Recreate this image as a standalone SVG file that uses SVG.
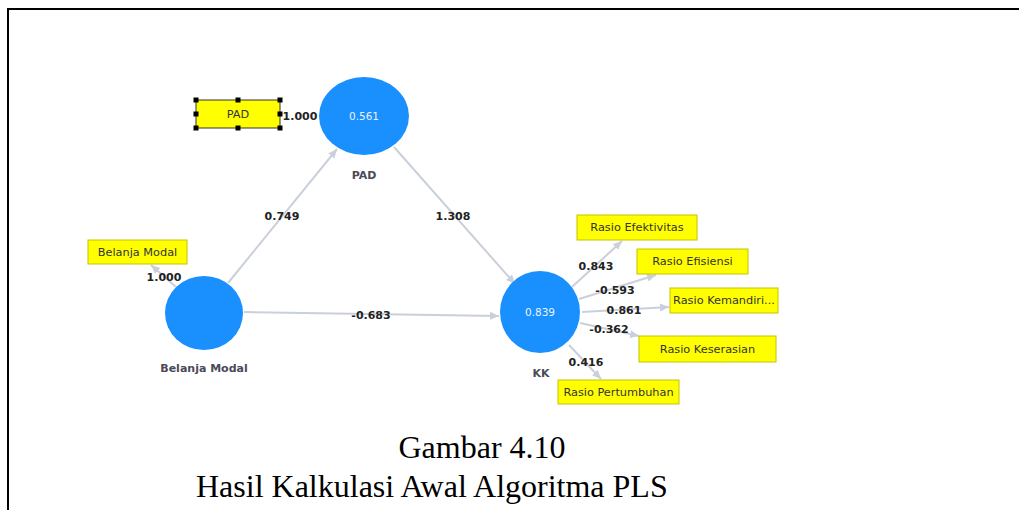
<svg xmlns="http://www.w3.org/2000/svg" width="1019" height="510" viewBox="0 0 1019 510">
<style>
.lv{fill:#1a90fe;}
.cv{font-family:"DejaVu Sans",sans-serif;font-size:10.5px;fill:#e8f2ff;text-anchor:middle;}
.nl{font-family:"DejaVu Sans",sans-serif;font-size:11px;font-weight:bold;fill:#4a4a58;text-anchor:middle;}
.box{fill:#ffff00;stroke:#c4c400;stroke-width:1;}
.bt{font-family:"DejaVu Sans",sans-serif;font-size:11.3px;fill:#333;text-anchor:middle;}
.w{font-family:"DejaVu Sans",sans-serif;font-size:11px;font-weight:bold;fill:#222;text-anchor:middle;}
.c{stroke:#c9d0db;stroke-width:2;fill:none;marker-end:url(#ah);}
.cap{font-family:"Liberation Serif",serif;font-size:32px;fill:#000;}
.h{fill:#000;}
</style>
<defs>
<marker id="ah" markerWidth="10" markerHeight="10" refX="9" refY="5" orient="auto" markerUnits="userSpaceOnUse">
<path d="M0,1 L9,5 L0,9 Z" fill="#c9d0db"/>
</marker>
</defs>
<rect width="1019" height="510" fill="#fff"/>
<path d="M8,510 L8,9 L1019,9" fill="none" stroke="#000" stroke-width="2"/>
<g id="connectors">
<line class="c" x1="228" y1="283" x2="337" y2="149"/>
<line class="c" x1="394" y1="147" x2="515" y2="284"/>
<line class="c" x1="244" y1="312" x2="499" y2="316"/>
<line class="c" x1="176" y1="287" x2="151" y2="265"/>
<line class="c" x1="572" y1="287" x2="622" y2="241"/>
<line class="c" x1="579" y1="299" x2="656" y2="275"/>
<line class="c" x1="582" y1="312" x2="669" y2="307"/>
<line class="c" x1="580" y1="323" x2="639" y2="336"/>
<line class="c" x1="569" y1="345" x2="601" y2="379"/>
<text class="w" x="282" y="220">0.749</text>
<text class="w" x="453" y="220">1.308</text>
<text class="w" x="371" y="319">-0.683</text>
<text class="w" x="164" y="281">1.000</text>
<text class="w" x="300" y="120">1.000</text>
<text class="w" x="596" y="270">0.843</text>
<text class="w" x="615" y="294">-0.593</text>
<text class="w" x="624" y="314">0.861</text>
<text class="w" x="609" y="333">-0.362</text>
<text class="w" x="586" y="366">0.416</text>
</g>
<g id="node-pad">
<ellipse class="lv" cx="364" cy="116" rx="45" ry="39"/>
<text class="cv" x="364" y="120">0.561</text>
<text class="nl" x="364" y="179">PAD</text>
</g>
<g id="node-bm">
<ellipse class="lv" cx="204" cy="313" rx="39" ry="37"/>
<text class="nl" x="204" y="372">Belanja Modal</text>
</g>
<g id="node-kk">
<ellipse class="lv" cx="540" cy="312" rx="40" ry="41"/>
<text class="cv" x="540" y="316">0.839</text>
<text class="nl" x="541" y="377">KK</text>
</g>
<g id="ind-pad">
<rect x="196" y="100" width="84" height="28" fill="#ffff00" stroke="#333" stroke-width="1"/>
<text class="bt" x="238" y="118">PAD</text>
<rect class="h" x="193.5" y="97.5" width="5" height="5"/>
<rect class="h" x="235.5" y="97.5" width="5" height="5"/>
<rect class="h" x="277.5" y="97.5" width="5" height="5"/>
<rect class="h" x="193.5" y="111.5" width="5" height="5"/>
<rect class="h" x="277.5" y="111.5" width="5" height="5"/>
<rect class="h" x="193.5" y="125.5" width="5" height="5"/>
<rect class="h" x="235.5" y="125.5" width="5" height="5"/>
<rect class="h" x="277.5" y="125.5" width="5" height="5"/>
</g>
<g id="ind-bm">
<rect class="box" x="88" y="240" width="99" height="24"/>
<text class="bt" x="137.5" y="256">Belanja Modal</text>
</g>
<g id="ind-efektivitas">
<rect class="box" x="577" y="215" width="120" height="25"/>
<text class="bt" x="637" y="231">Rasio Efektivitas</text>
</g>
<g id="ind-efisiensi">
<rect class="box" x="637" y="249" width="111" height="25"/>
<text class="bt" x="692.5" y="265">Rasio Efisiensi</text>
</g>
<g id="ind-kemandirian">
<rect class="box" x="670" y="288" width="108" height="25"/>
<text class="bt" x="724" y="304">Rasio Kemandiri...</text>
</g>
<g id="ind-keserasian">
<rect class="box" x="639" y="336" width="137" height="26"/>
<text class="bt" x="707.5" y="353">Rasio Keserasian</text>
</g>
<g id="ind-pertumbuhan">
<rect class="box" x="558" y="380" width="121" height="24"/>
<text class="bt" x="618.5" y="396">Rasio Pertumbuhan</text>
</g>
<text class="cap" x="482" y="458" text-anchor="middle">Gambar 4.10</text>
<text class="cap" x="196" y="497">Hasil Kalkulasi Awal Algoritma PLS</text>
</svg>
